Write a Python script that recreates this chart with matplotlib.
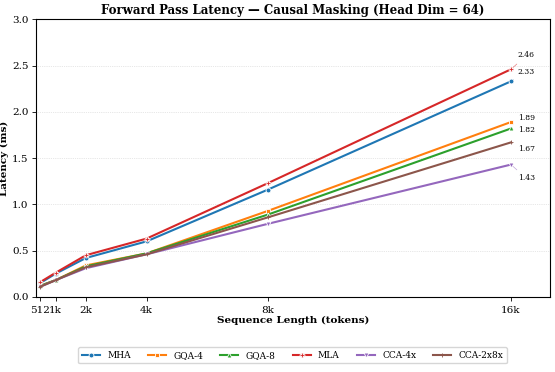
import numpy as np
import matplotlib
matplotlib.use('Agg')
import matplotlib.pyplot as plt

seq_len = [512, 1024, 2048, 4096, 8192, 16384]
tick_labels = ['512', '1k', '2k', '4k', '8k', '16k']

mha = [0.15, 0.25, 0.42, 0.60, 1.16, 2.33]
gqa4 = [0.12, 0.18, 0.34, 0.47, 0.93, 1.89]
gqa8 = [0.12, 0.18, 0.33, 0.47, 0.89, 1.82]
mla = [0.16, 0.26, 0.45, 0.63, 1.23, 2.46]
cca4 = [0.11, 0.18, 0.31, 0.46, 0.79, 1.43]
cca28 = [0.11, 0.18, 0.32, 0.46, 0.86, 1.67]

series = [
    ('MHA', mha, '#1f77b4', 'o'),
    ('GQA-4', gqa4, '#ff7f0e', 's'),
    ('GQA-8', gqa8, '#2ca02c', '^'),
    ('MLA', mla, '#d62728', 'P'),
    ('CCA-4x', cca4, '#9467bd', 'v'),
    ('CCA-2x8x', cca28, '#8c564b', '+'),
]
# label offsets (points) for the final value annotations
offsets = {'MHA': (5, 7), 'GQA-4': (5, 3), 'GQA-8': (5, -1),
           'MLA': (5, 10), 'CCA-4x': (5, -10), 'CCA-2x8x': (5, -5)}

plt.rcParams['font.family'] = 'DejaVu Serif'

fig, ax = plt.subplots(figsize=(5.55, 3.72), dpi=100)

for name, vals, color, marker in series:
    ax.plot(seq_len, vals, color=color, marker=marker, markersize=3.5,
            linewidth=1.5, markeredgecolor='white' if marker != '+' else color,
            markeredgewidth=0.6, label=name)
    ox, oy = offsets[name]
    ax.annotate(f'{vals[-1]:.2f}', xy=(seq_len[-1], vals[-1]),
                xytext=(ox, oy), textcoords='offset points', fontsize=5.5,
                ha='left', va='center',
                arrowprops=dict(arrowstyle='-', color=color, lw=0.5, alpha=0.6))

ax.set_xticks(seq_len)
ax.set_xticklabels(tick_labels, fontsize=7.5)
ax.set_xlim(350, 17700)
ax.set_ylim(0, 3.0)
ax.set_yticks(np.arange(0, 3.01, 0.5))
ax.tick_params(axis='y', labelsize=7.5, pad=2)
ax.tick_params(length=3, width=0.6)
ax.grid(axis='y', linestyle=':', linewidth=0.5, alpha=0.6)
for s in ax.spines.values():
    s.set_linewidth(0.8)

ax.set_title('Forward Pass Latency — Causal Masking (Head Dim = 64)', fontsize=8.5, fontweight='bold', pad=4)
ax.set_xlabel('Sequence Length (tokens)', fontsize=7.5, fontweight='bold', labelpad=1)
ax.set_ylabel('Latency (ms)', fontsize=7.5, fontweight='bold', labelpad=2)

ax.legend(loc='upper center', bbox_to_anchor=(0.5, -0.165), ncol=6, fontsize=6.5,
          frameon=True, handlelength=2.0, columnspacing=1.9)

fig.subplots_adjust(left=0.064, right=0.991, top=0.948, bottom=0.202)
fig.savefig('out.png', dpi=100)
